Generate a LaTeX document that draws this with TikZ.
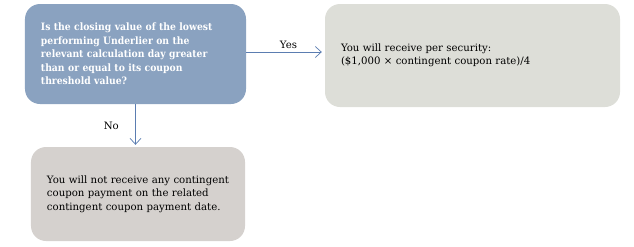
\documentclass[tikz,border=0pt]{standalone}
\usepackage{fontspec}
\setmainfont{DejaVu Serif}
\newfontfamily\askfont{DejaVu Serif}[FakeStretch=0.91]
\usetikzlibrary{arrows.meta,positioning}

\definecolor{askblue}{HTML}{8AA2C0}
\definecolor{yesgray}{HTML}{DDDED8}
\definecolor{nogray}{HTML}{D5D1CE}
\definecolor{linkblue}{HTML}{5B7DB1}

\tikzset{
  box/.style={rounded corners=15bp, inner xsep=16bp, inner ysep=0pt, align=left,
    font=\fontsize{10.2}{13.5}\selectfont},
  link/.style={draw=linkblue, line width=0.7bp, -{Straight Barb[length=6bp,width=11bp]}},
  tag/.style={font=\fontsize{10.2}{13.5}\selectfont}
}

\begin{document}
\begin{tikzpicture}[x=1bp, y=-1bp]
  \useasboundingbox (0,0) rectangle (634,246);

  % question
  \node[box, fill=askblue, text=white, font=\askfont\fontsize{10.2}{13.5}\selectfont\bfseries,
    text width=189bp, minimum height=100bp] (ask) at (135.5,54)
    {Is the closing value of the lowest\\ performing Underlier on the\\ relevant calculation day greater\\ than or equal to its coupon\\ threshold value?};

  % answers
  \node[box, fill=yesgray, text width=263bp, minimum height=103bp] (yes) at (472.5,55.5)
    {You will receive per security:\\ (\$1,000 × contingent coupon rate)/4};
  \node[box, fill=nogray, text width=182bp, minimum height=94bp] (no) at (138,194)
    {\mbox{You will not receive any contingent}\\ coupon payment on the related\\ contingent coupon payment date.};

  \draw[link, shorten >=3bp] (ask.east |- 0,52) -- (yes.west |- 0,52)
    node[tag, midway, above, xshift=3bp] {Yes};
  \draw[link, shorten >=2bp] (ask.south) -- (ask.south |- no.north)
    node[tag, midway, left, xshift=-13bp] {No};
\end{tikzpicture}
\end{document}
